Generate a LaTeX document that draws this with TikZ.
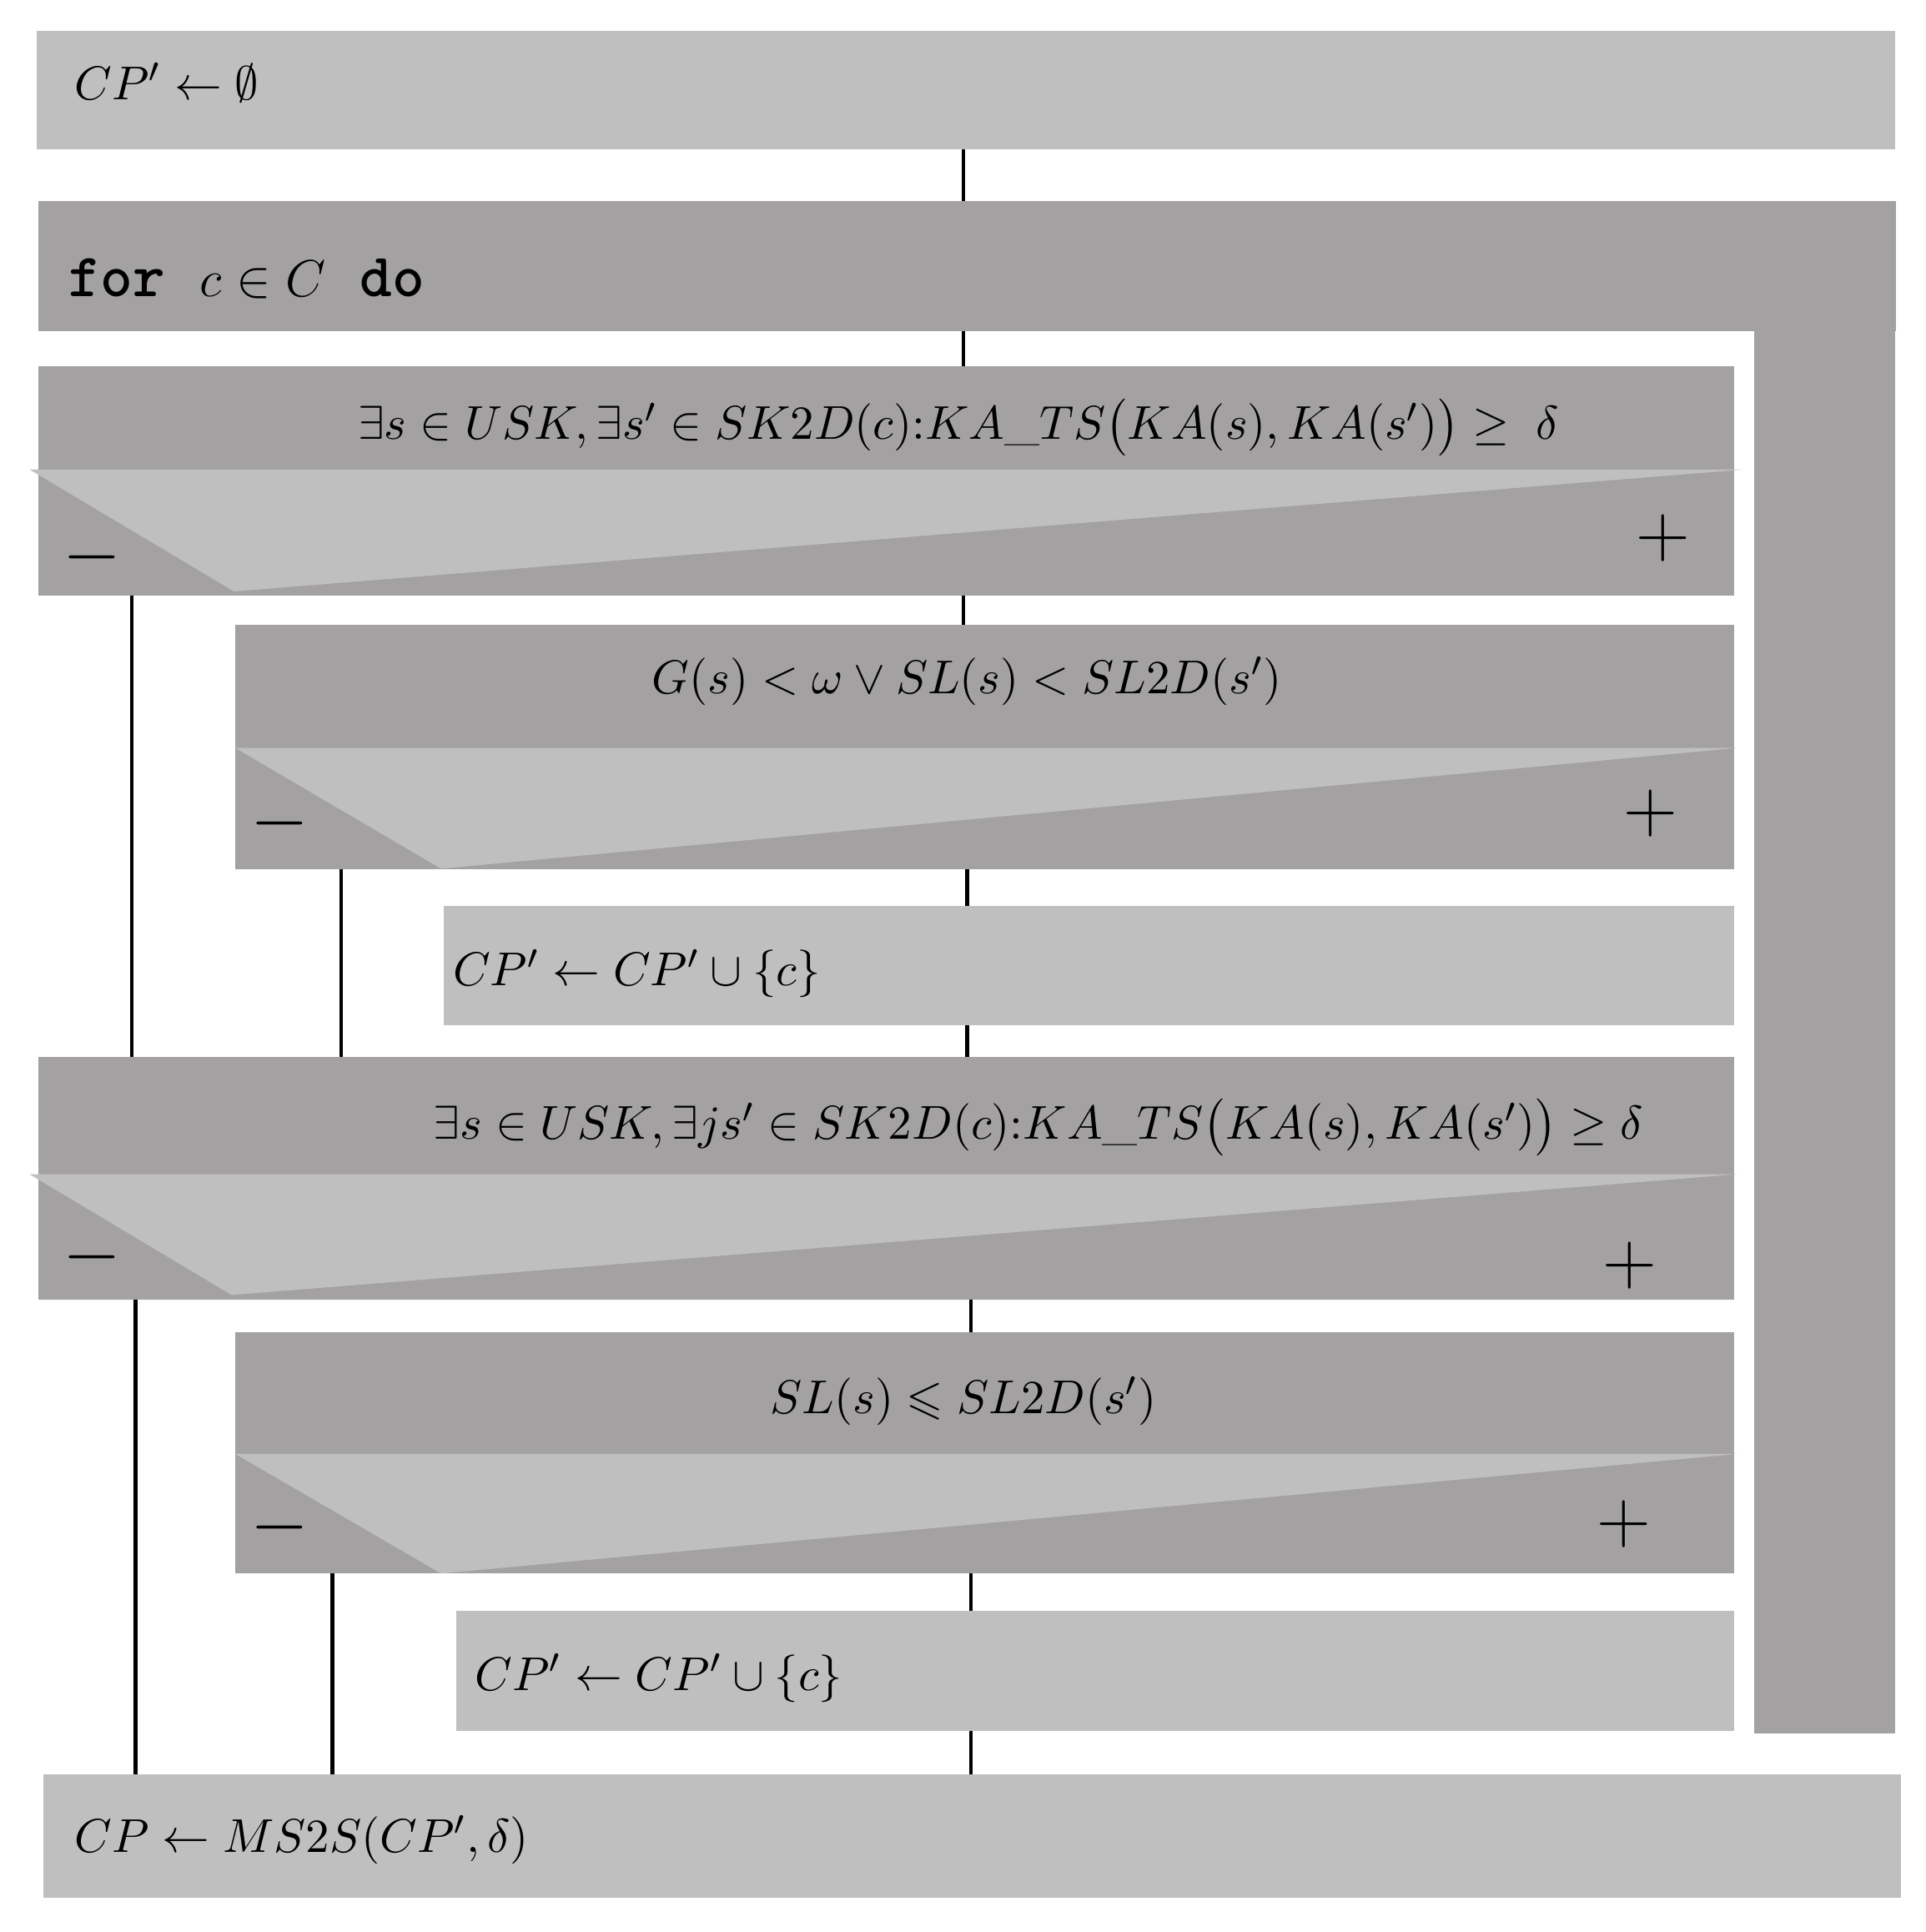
\documentclass[tikz,border=0pt]{standalone}
\usepackage{amsmath}
\usepackage{amssymb}
\usepackage{fontspec}
\usepackage{tikz}
\definecolor{boxlight}{RGB}{192,191,192}
\definecolor{boxdark}{RGB}{163,161,162}
\newcommand{\kw}[1]{{\fontsize{14.2}{16}\selectfont\ttfamily\bfseries #1}}

\begin{document}
\begin{tikzpicture}[x=0.01cm, y=-0.01cm, font=\fontsize{11}{13}\selectfont]

        \tikzstyle{box}      = [rectangle, anchor=north west, inner sep=0pt, outer sep=0pt]
        \tikzstyle{lightbox} = [box, fill=boxlight]
        \tikzstyle{darkbox}  = [box, fill=boxdark]
        \tikzstyle{txt}      = [inner sep=0pt]
        \tikzstyle{flow}     = [line width=0.9pt]
        \tikzstyle{sign}     = [inner sep=0pt, font=\fontsize{16}{18}\selectfont]

        \useasboundingbox (0,0) rectangle (1563,1568);

        % x positions of the flow lines
        \coordinate (spineA) at (782,0);
        \coordinate (spineB) at (785,0);
        \coordinate (spineC) at (788,0);
        \coordinate (no1) at (107,0);
        \coordinate (no2) at (277,0);
        \coordinate (no3) at (110,0);
        \coordinate (no4) at (270,0);

        % boxes
        \node [lightbox, minimum width=15.07cm, minimum height=0.96cm] (init) at (30,25) {};
        \node [darkbox, minimum width=15.07cm, minimum height=1.06cm] (forhead) at (31,163) {};
        \node [darkbox, minimum width=1.14cm, minimum height=11.38cm] (forside) at (1424,268) {};

        \node [darkbox, minimum width=13.76cm, minimum height=1.86cm] (cond1) at (31,297) {};
        \fill [boxlight] (24,381) -- (1416,381) -- (190,480) -- cycle;

        \node [darkbox, minimum width=12.16cm, minimum height=1.98cm] (cond2) at (191,507) {};
        \fill [boxlight] (191,607) -- (1410,607) -- (358,705) -- cycle;

        \node [lightbox, minimum width=10.47cm, minimum height=0.97cm] (add1) at (360,735) {};

        \node [darkbox, minimum width=13.76cm, minimum height=1.97cm] (cond3) at (31,858) {};
        \fill [boxlight] (24,953) -- (1410,953) -- (188,1051) -- cycle;

        \node [darkbox, minimum width=12.16cm, minimum height=1.96cm] (cond4) at (191,1081) {};
        \fill [boxlight] (191,1180) -- (1410,1180) -- (358,1277) -- cycle;

        \node [lightbox, minimum width=10.37cm, minimum height=0.98cm] (add2) at (370,1307) {};

        \node [lightbox, minimum width=15.07cm, minimum height=1.00cm] (result) at (35,1440) {};

        % texts
        \node [txt, anchor=west] (initlabel) at (60,67) {$CP' \leftarrow \emptyset$};
        \node [txt, anchor=west] (forlabel) at (55,226) {\kw{for}\hspace{0.28cm}{\fontsize{12.5}{14}\selectfont$c \in C$}\hspace{0.28cm}\kw{do}};
        \node [txt] (cond1label) at (778,347) {$\exists s \in USK, \exists s' \in SK2D(c){:}KA\_TS\bigl(KA(s), KA(s')\bigr) \geq \;\delta$};
        \node [txt] (cond2label) at (785,553) {$G(s) < \omega \vee SL(s) < SL2D(s')$};
        \node [txt, anchor=west] (add1label) at (367,790) {$CP' \leftarrow CP' \cup \{c\}$};
        \node [txt] (cond3label) at (843,915) {$\exists s \in USK, \exists js' \in SK2D(c){:}KA\_TS\bigl(KA(s), KA(s')\bigr) \geq \delta$};
        \node [txt] (cond4label) at (782,1137) {$SL(s) \leqslant SL2D(s')$};
        \node [txt, anchor=west] (add2label) at (385,1362) {$CP' \leftarrow CP' \cup \{c\}$};
        \node [txt, anchor=west] (resultlabel) at (60,1493) {$CP \leftarrow MS2S(CP', \delta)$};

        % branch signs
        \node [sign] (no1sign)  at (75,452)   {$-$};
        \node [sign] (yes1sign) at (1350,437) {$+$};
        \node [sign] (no2sign)  at (227,668)  {$-$};
        \node [sign] (yes2sign) at (1340,660) {$+$};
        \node [sign] (no3sign)  at (75,1020)  {$-$};
        \node [sign] (yes3sign) at (1323,1027) {$+$};
        \node [sign] (no4sign)  at (227,1240) {$-$};
        \node [sign] (yes4sign) at (1318,1237) {$+$};

        % flow lines
        \foreach \a/\b/\s in {init/forhead/spineA, forhead/cond1/spineA, cond1/cond2/spineA,
                              cond2/add1/spineB, add1/cond3/spineB, cond3/cond4/spineC,
                              cond4/add2/spineC, add2/result/spineC}
        {
                \draw [flow] (\a.south -| \s) -- (\b.north -| \s);
        }

        \draw [flow] (cond1.south -| no1) -- (cond3.north -| no1);
        \draw [flow] (cond2.south -| no2) -- (cond3.north -| no2);
        \draw [flow] (cond3.south -| no3) -- (result.north -| no3);
        \draw [flow] (cond4.south -| no4) -- (result.north -| no4);

\end{tikzpicture}
\end{document}
